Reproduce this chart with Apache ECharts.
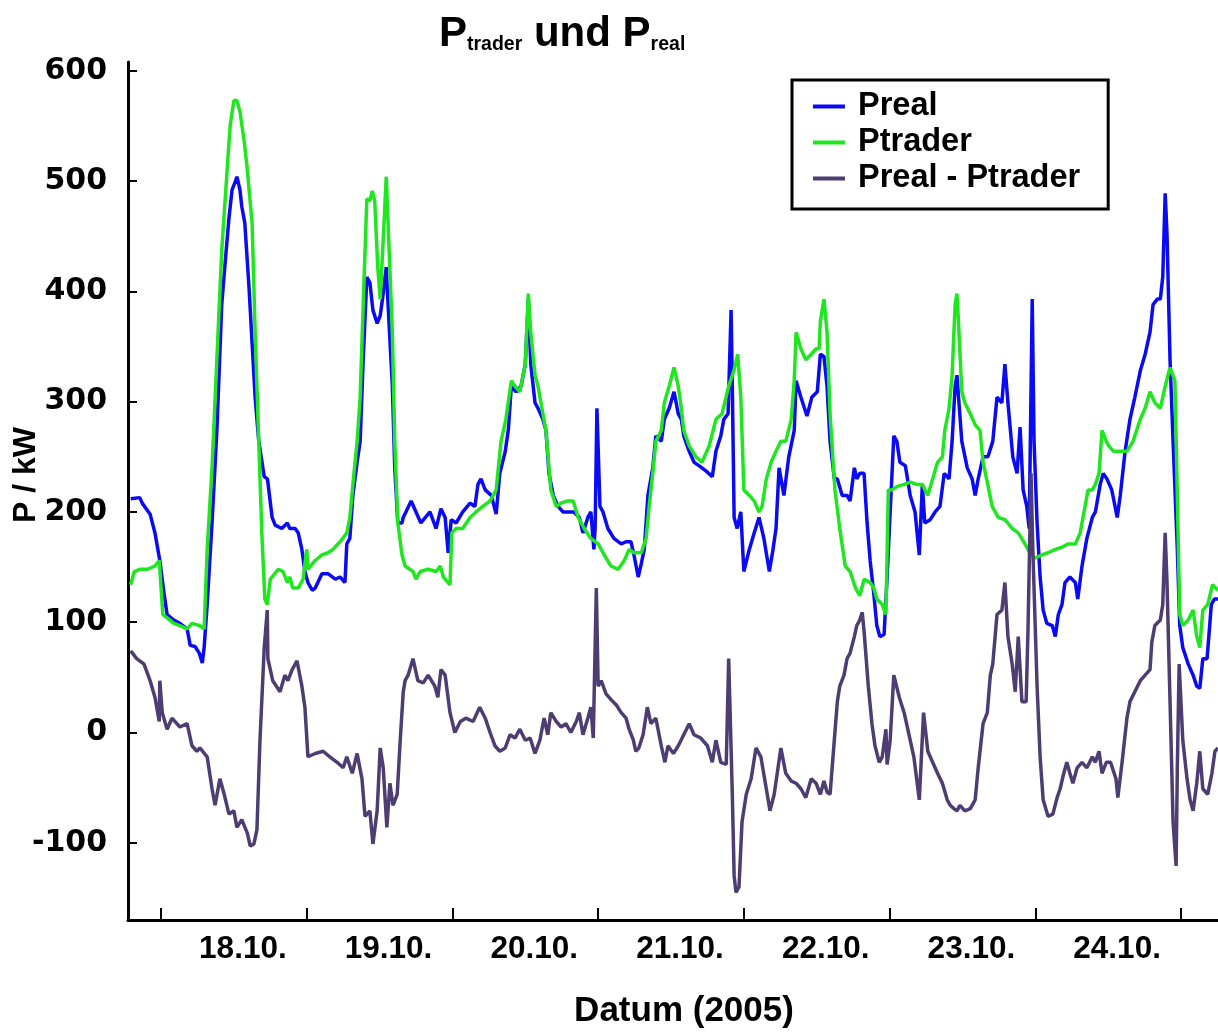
<!DOCTYPE html>
<html><head><meta charset="utf-8">
<script src="https://cdn.jsdelivr.net/npm/echarts@6/dist/echarts.min.js"></script>
<style>html,body{margin:0;padding:0;background:#fff}#c{width:1218px;height:1032px}</style>
</head><body><div id="c"></div>
<script>
// x values: hours since 18.10.2005 00:00
const dayLabels = ['18.10.','19.10.','20.10.','21.10.','22.10.','23.10.','24.10.'];
const dayTickHours = [0,24,48,72,96,120,144,168];
const labelHours = [12,36,60,84,108,132,156];
const yTicks = [-100,0,100,200,300,400,500,600];
const seriesNames = ['Preal','Ptrader','Preal - Ptrader'];

const preal = [[-5.0,212],[-3.5,213],[-3.1,208],[-1.8,198],[-1.0,181],[-0.2,156],[0.5,126],[1.0,107],[2.1,102],[3.1,99],[4.3,94],[4.8,79],[5.6,78],[6.3,72],[6.8,63],[7.1,77],[7.6,116],[8.4,190],[9.2,274],[10.0,388],[10.5,422],[11.2,467],[11.7,492],[12.2,499],[12.5,504],[13.0,492],[13.3,477],[13.8,462],[14.5,403],[15.0,353],[15.5,304],[16.1,264],[17.0,232],[17.5,230],[17.6,227],[18.3,195],[18.8,188],[19.9,185],[20.8,190],[21.2,185],[22.1,185],[22.6,181],[23.2,166],[23.7,146],[24.2,136],[24.9,129],[25.4,131],[26.5,144],[27.5,144],[28.7,139],[29.5,141],[30.3,136],[30.6,171],[31.1,176],[31.6,215],[32.3,245],[32.8,264],[33.3,338],[33.9,413],[34.4,408],[34.9,383],[35.6,371],[36.1,378],[36.6,398],[37.1,422],[37.4,388],[38.1,314],[38.5,240],[39.0,190],[39.7,190],[39.9,195],[41.2,210],[42.8,190],[44.3,200],[45.3,185],[46.1,203],[46.8,195],[47.3,163],[47.8,193],[48.6,190],[49.7,200],[50.9,208],[51.7,205],[52.2,225],[52.7,230],[53.4,220],[54.4,215],[55.2,198],[55.8,235],[56.7,255],[57.2,274],[57.7,314],[58.5,309],[59.3,314],[60.0,334],[60.5,393],[60.9,334],[61.6,299],[62.1,294],[62.9,284],[63.4,274],[63.9,235],[64.6,215],[65.4,205],[66.2,200],[67.2,200],[68.0,200],[68.9,195],[69.5,181],[70.3,195],[70.8,200],[71.3,166],[71.5,185],[71.8,294],[72.0,294],[72.3,205],[72.8,200],[73.6,185],[74.6,176],[75.8,171],[76.6,173],[77.4,173],[77.9,161],[78.6,141],[79.1,153],[79.6,166],[80.2,215],[81.0,240],[81.5,269],[82.4,264],[82.9,284],[83.7,294],[84.5,309],[85.2,289],[85.7,284],[86.1,269],[87.0,255],[87.8,245],[88.6,242],[89.8,237],[90.8,232],[91.4,255],[92.2,269],[92.7,284],[93.4,289],[93.9,383],[94.1,314],[94.4,195],[94.9,185],[95.5,200],[96.0,146],[96.9,166],[97.7,181],[98.5,195],[99.3,176],[100.2,146],[100.8,166],[101.3,185],[101.8,240],[102.6,215],[103.4,250],[104.3,274],[104.6,319],[105.4,304],[106.4,287],[107.2,304],[108.1,309],[108.6,343],[109.2,341],[109.7,314],[110.2,264],[110.9,230],[111.4,230],[112.2,215],[113.0,215],[113.5,210],[114.2,240],[114.6,230],[115.1,235],[115.8,235],[116.3,190],[116.8,156],[117.4,126],[117.9,97],[118.4,87],[119.1,89],[119.6,141],[120.1,200],[120.7,269],[121.2,264],[121.7,245],[122.6,242],[123.4,215],[124.2,200],[124.9,161],[125.4,225],[125.8,190],[126.7,193],[127.5,200],[128.3,205],[129.0,235],[129.8,230],[130.3,264],[130.8,314],[131.1,324],[131.3,324],[131.9,264],[132.8,240],[133.6,230],[134.1,215],[134.6,230],[135.4,250],[136.2,250],[137.0,264],[137.7,304],[138.5,299],[139.0,334],[139.5,299],[140.3,250],[141.0,235],[141.5,277],[142.0,220],[142.6,205],[143.0,185],[143.5,393],[143.8,264],[144.3,190],[144.8,141],[145.3,111],[145.9,99],[146.8,97],[147.3,87],[147.8,107],[148.4,116],[148.9,136],[149.7,141],[150.6,136],[151.0,121],[151.7,151],[152.5,176],[153.4,195],[153.9,200],[154.7,225],[155.2,235],[155.8,230],[156.6,220],[157.5,195],[158.0,215],[158.8,255],[159.6,284],[160.4,304],[161.3,328],[162.1,343],[162.9,363],[163.4,388],[164.1,393],[164.6,393],[165.0,413],[165.4,489],[165.7,452],[166.2,338],[166.7,264],[167.4,166],[167.8,97],[168.3,77],[169.2,62],[170.0,52],[170.6,42],[171.1,40],[171.6,67],[172.3,67],[173.0,116],[173.5,121],[174.1,121]];

const ptrader = [[-5.0,134],[-4.4,146],[-3.5,148],[-2.3,148],[-1.0,151],[-0.3,156],[0.3,107],[1.0,104],[2.1,99],[3.1,97],[4.3,94],[5.1,99],[6.3,97],[7.1,94],[7.6,166],[8.4,240],[9.2,339],[10.0,437],[10.9,511],[11.4,551],[12.0,573],[12.5,573],[13.0,563],[13.7,536],[14.2,511],[15.0,462],[15.5,363],[16.1,264],[16.6,181],[17.1,121],[17.5,116],[18.0,139],[19.3,148],[20.1,146],[20.8,136],[21.2,141],[21.7,131],[22.6,131],[23.4,139],[24.0,166],[24.2,148],[25.4,156],[26.5,161],[27.5,163],[28.3,166],[29.5,173],[30.6,181],[31.1,195],[31.6,225],[32.3,264],[32.8,304],[33.3,388],[33.9,484],[34.4,482],[34.8,491],[35.2,482],[35.7,422],[36.1,393],[36.6,447],[37.1,504],[37.4,462],[38.1,363],[38.5,264],[39.0,190],[39.7,161],[40.2,151],[40.5,151],[41.5,146],[42.0,139],[42.7,146],[44.0,148],[45.3,146],[46.0,151],[46.5,141],[47.6,134],[47.9,181],[48.6,185],[49.7,185],[50.9,195],[51.9,200],[53.0,205],[54.2,210],[55.2,220],[56.0,264],[56.8,284],[57.7,319],[58.3,314],[59.1,309],[60.0,334],[60.5,398],[60.9,363],[61.6,324],[62.1,314],[62.9,289],[63.4,274],[64.2,220],[65.1,205],[65.9,208],[67.0,210],[67.9,210],[68.7,195],[69.7,185],[70.8,176],[72.0,171],[73.0,161],[74.1,151],[75.3,148],[76.3,156],[77.1,166],[77.9,163],[79.1,163],[79.9,176],[80.4,205],[81.0,235],[81.5,264],[82.4,274],[82.9,299],[83.7,314],[84.5,331],[85.2,314],[85.7,294],[86.1,274],[87.0,260],[88.1,250],[89.1,245],[90.3,260],[91.4,284],[92.4,289],[93.5,314],[94.4,329],[95.0,343],[95.5,304],[96.0,220],[96.9,215],[97.7,210],[98.5,200],[99.0,205],[99.7,230],[100.5,245],[101.3,255],[102.1,264],[102.9,264],[103.8,284],[104.3,319],[104.6,363],[105.4,348],[106.2,338],[107.1,343],[107.9,348],[108.4,348],[108.6,373],[109.2,393],[109.7,363],[110.2,289],[111.0,220],[111.8,185],[112.7,151],[113.5,146],[114.4,131],[115.1,124],[115.8,139],[116.8,136],[117.4,131],[117.9,121],[118.8,116],[119.4,107],[119.8,220],[120.4,220],[121.2,223],[122.4,225],[123.4,227],[124.5,225],[125.4,225],[126.3,215],[127.1,230],[127.9,245],[128.7,250],[129.1,274],[129.8,294],[130.3,324],[130.8,388],[131.1,398],[131.3,378],[131.9,309],[132.4,299],[133.3,289],[134.1,279],[134.9,274],[135.4,245],[136.1,227],[136.9,205],[137.9,195],[139.0,193],[140.2,185],[141.2,181],[142.3,171],[143.1,163],[143.9,158],[145.1,161],[146.1,163],[147.3,166],[148.4,168],[149.4,171],[150.6,171],[151.4,181],[152.2,205],[152.7,220],[153.4,220],[153.9,225],[154.5,235],[155.0,274],[155.7,264],[156.1,260],[156.9,255],[158.0,255],[159.1,255],[160.1,264],[161.3,284],[162.1,294],[162.9,309],[163.7,299],[164.6,294],[165.4,314],[166.2,331],[167.0,319],[167.4,215],[167.8,107],[168.3,97],[169.2,102],[170.0,111],[170.6,87],[171.1,77],[171.6,111],[172.4,116],[173.2,134],[174.1,129]];

const pdiff = [[-5.0,74],[-4.0,67],[-2.8,62],[-1.8,47],[-1.0,32],[-0.3,10],[-0.2,47],[0.2,18],[1.0,3],[1.8,13],[3.1,5],[4.3,8],[5.1,-12],[5.9,-17],[6.4,-14],[7.6,-22],[8.4,-51],[8.9,-66],[9.7,-42],[10.4,-56],[11.2,-74],[12.0,-71],[12.5,-86],[13.3,-79],[14.2,-91],[14.7,-103],[15.3,-101],[15.8,-88],[16.3,-7],[17.0,77],[17.5,111],[17.6,67],[18.4,47],[19.6,37],[20.4,52],[20.9,47],[21.6,57],[22.4,65],[23.2,42],[23.7,23],[24.2,-22],[25.4,-19],[26.7,-17],[27.8,-22],[29.0,-27],[30.0,-32],[30.6,-22],[31.5,-37],[32.3,-19],[33.1,-42],[33.6,-76],[34.4,-71],[34.9,-101],[35.6,-71],[36.1,-14],[36.6,-32],[37.2,-86],[37.7,-46],[38.2,-66],[38.9,-56],[39.4,-7],[39.9,37],[40.2,47],[40.7,52],[41.5,67],[42.3,47],[43.2,45],[44.0,52],[45.1,42],[45.6,32],[46.1,57],[46.8,52],[47.6,18],[48.4,0],[49.3,10],[50.2,13],[51.4,10],[52.5,23],[53.4,13],[54.2,0],[55.0,-12],[55.8,-17],[56.7,-14],[57.5,-2],[58.3,-5],[59.1,3],[60.0,-7],[60.8,-5],[61.6,-19],[62.4,-7],[63.1,13],[63.7,-2],[64.2,18],[65.1,10],[65.9,5],[66.7,8],[67.5,0],[68.4,10],[68.9,18],[69.5,-2],[70.3,13],[70.8,23],[71.2,-5],[71.7,131],[72.0,42],[72.5,47],[73.3,35],[74.1,30],[75.0,25],[75.8,18],[76.6,13],[77.1,3],[77.8,-7],[78.2,-17],[78.7,-14],[79.4,-2],[80.1,23],[80.7,8],[81.5,13],[82.4,-12],[83.0,-27],[83.5,-12],[84.4,-19],[85.2,-12],[86.1,-2],[87.0,8],[87.8,-2],[88.9,-5],[90.0,-12],[90.8,-27],[91.4,-7],[92.2,-27],[93.1,-29],[93.5,67],[94.1,-56],[94.4,-130],[94.7,-145],[95.2,-140],[95.7,-81],[96.4,-56],[97.2,-42],[98.0,-14],[98.8,-22],[99.7,-51],[100.3,-71],[101.0,-56],[101.5,-37],[102.1,-14],[102.9,-37],[103.8,-44],[104.6,-46],[105.4,-51],[106.2,-59],[107.1,-42],[107.9,-46],[108.6,-56],[109.2,-44],[109.7,-54],[110.2,-56],[110.9,-7],[111.4,28],[111.8,42],[112.5,52],[113.0,67],[113.5,72],[114.2,87],[114.6,97],[115.1,102],[115.5,109],[115.8,92],[116.5,42],[117.1,8],[117.6,-12],[118.3,-27],[118.8,-22],[119.4,3],[119.6,-29],[120.1,-7],[120.7,52],[121.6,32],[122.4,18],[123.2,-2],[124.0,-22],[124.9,-61],[125.6,18],[126.3,-17],[127.1,-27],[127.9,-37],[128.7,-46],[129.5,-61],[130.0,-66],[130.6,-69],[131.1,-71],[131.6,-66],[132.4,-71],[133.3,-69],[134.1,-61],[134.6,-32],[135.4,8],[136.1,18],[136.6,52],[137.0,62],[137.7,107],[138.5,111],[139.0,136],[139.5,87],[140.2,62],[140.7,37],[141.2,87],[141.8,28],[142.5,28],[142.8,92],[143.3,235],[143.6,166],[144.3,42],[144.8,-22],[145.3,-61],[146.1,-76],[146.9,-74],[147.6,-59],[148.1,-51],[148.6,-39],[149.2,-27],[149.7,-37],[150.2,-46],[150.9,-32],[151.7,-27],[152.5,-32],[153.4,-22],[153.9,-27],[154.5,-17],[155.0,-37],[155.7,-27],[156.4,-27],[157.3,-42],[157.6,-59],[158.3,-27],[159.1,13],[159.6,28],[160.4,37],[161.3,47],[162.1,52],[162.9,57],[163.2,82],[163.7,97],[164.6,102],[165.0,116],[165.4,181],[165.7,136],[166.2,28],[166.7,-81],[167.2,-121],[167.4,-32],[167.7,62],[168.3,-7],[169.0,-42],[169.5,-61],[170.0,-71],[170.6,-46],[171.1,-17],[171.6,-51],[172.4,-56],[173.1,-37],[173.6,-17],[174.1,-14]];

const colors = ['#0a0af5','#1fe61f','#4d3d72'];
const chart = echarts.init(document.getElementById('c'), null, {renderer:'canvas'});
const lab = {fontFamily:'Liberation Sans, Arial, sans-serif', fontWeight:'bold', color:'#000'};
chart.setOption({
  animation:false,
  backgroundColor:'#fff',
  title:{
    text:'{a|P}{b|trader}{a| und P}{b|real}',
    left:434, top:4,
    textStyle:{rich:{
      a:Object.assign({fontSize:42, lineHeight:46, verticalAlign:'bottom'}, lab),
      b:Object.assign({fontSize:19.5, lineHeight:14, verticalAlign:'bottom'}, lab)
    }}
  },
  legend:{
    orient:'vertical', left:792, top:80,
    data:seriesNames,
    icon:'rect', itemWidth:32, itemHeight:4, itemGap:3,
    borderColor:'#000', borderWidth:3, padding:[10,28,14,21],
    textStyle:Object.assign({fontSize:32.5, lineHeight:31, padding:[0,0,0,8]}, lab)
  },
  grid:{left:128, right:0, top:62, bottom:112, containLabel:false, outerBoundsMode:'none'},
  xAxis:{
    type:'value', min:-5.44, max:174.1,
    axisLine:{onZero:false, lineStyle:{color:'#000', width:3}},
    axisTick:{show:true, inside:true, length:12, customValues:dayTickHours, lineStyle:{color:'#000', width:2}},
    axisLabel:Object.assign({customValues:labelHours, fontSize:31.5, margin:13, padding:[0,0,0,18],
      formatter:(v)=>dayLabels[Math.round((v-12)/24)] || ''}, lab),
    splitLine:{show:false},
    name:'Datum (2005)', nameLocation:'middle', nameGap:74, nameMoveOverlap:false,
    nameTextStyle:Object.assign({fontSize:35, padding:[0,0,0,22]}, lab)
  },
  yAxis:{
    type:'value', min:-170, max:608,
    axisLine:{show:true, onZero:false, lineStyle:{color:'#000', width:3}},
    axisTick:{show:true, inside:true, length:9, customValues:yTicks, lineStyle:{color:'#000', width:2}},
    axisLabel:{customValues:yTicks, fontFamily:'DejaVu Sans', fontWeight:'bold', fontSize:30, color:'#000', margin:21},
    splitLine:{show:false},
    name:'P / kW', nameLocation:'middle', nameGap:86, nameRotate:90, nameMoveOverlap:false,
    nameTextStyle:Object.assign({fontSize:32, padding:[0,0,0,32]}, lab)
  },
  series:[
    {name:seriesNames[0], type:'line', data:preal, showSymbol:false, color:colors[0], lineStyle:{width:3.5}, z:2},
    {name:seriesNames[1], type:'line', data:ptrader, showSymbol:false, color:colors[1], lineStyle:{width:3.5}, z:3},
    {name:seriesNames[2], type:'line', data:pdiff, showSymbol:false, color:colors[2], lineStyle:{width:3.5}, z:4}
  ]
});
</script></body></html>
